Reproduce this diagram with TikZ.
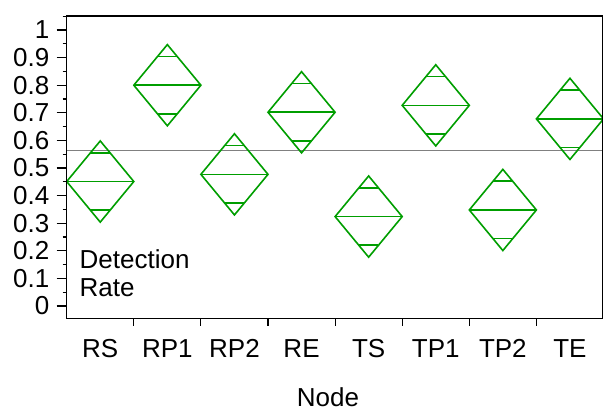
\documentclass[tikz,border=0pt]{standalone}
\usepackage{fontspec}
\setmainfont{Liberation Sans}
\definecolor{dgreen}{RGB}{0,158,0}
\definecolor{refgray}{RGB}{128,128,128}
\begin{document}
\begin{tikzpicture}[x=1pt,y=-1pt,
  axisline/.style={line width=1.3pt,black},
  tickline/.style={line width=1.1pt,black},
  diam/.style={line width=1.6pt,dgreen,line join=miter},
  refline/.style={line width=1.6pt,refgray},
  lbl/.style={font=\fontsize{26}{30}\selectfont,inner sep=0pt}]
\useasboundingbox (0,0) rectangle (603,408);
% reference (overall mean) line
\draw[refline] (66.7,150.6) -- (602.3,150.6);
% mean diamonds
\foreach \i/\m in {0/0.451,1/0.800,2/0.477,3/0.702,4/0.324,5/0.727,6/0.348,7/0.678} {
  \pgfmathsetmacro\cx{100.25+67.1*\i}
  \pgfmathsetmacro\cy{306-276*\m}
  \draw[diam] (\cx-33.55,\cy) -- (\cx,\cy-40.6) -- (\cx+33.55,\cy) -- (\cx,\cy+40.6) -- cycle;
  \draw[diam] (\cx-33.55,\cy) -- (\cx+33.55,\cy);
  \draw[diam] (\cx-9.83,\cy-28.7) -- (\cx+9.83,\cy-28.7);
  \draw[diam] (\cx-9.83,\cy+28.7) -- (\cx+9.83,\cy+28.7);
}
% y ticks and labels
\foreach \k/\lab in {0/0,1/0.1,2/0.2,3/0.3,4/0.4,5/0.5,6/0.6,7/0.7,8/0.8,9/0.9,10/1} {
  \pgfmathsetmacro\ty{306-27.6*\k}
  \draw[tickline] (56.7,\ty) -- (66.7,\ty);
  \draw[tickline] (62.7,\ty-13.8) -- (66.7,\ty-13.8);
  \node[lbl,anchor=base east] (yl\k) at (49.5,\ty+8.8) {\lab};
}
% x ticks and labels
\foreach \i in {1,...,7} {
  \draw[tickline] (66.7+67.1*\i,318.3) -- ++(0,8);
}
\foreach \i/\lab in {0/RS,1/RP1,2/RP2,3/RE,4/TS,5/TP1,6/TP2,7/TE} {
  \node[lbl,anchor=base] (xl\i) at (100.25+67.1*\i,357) {\lab};
}
% frame
\draw[axisline] (66.7,16) -- (602.3,16) -- (602.3,318.3) -- (66.7,318.3) -- cycle;
% axis titles
\node[lbl,anchor=base west] (ytitleA) at (79.5,268.3) {Detection};
\node[lbl,anchor=base west] (ytitleB) at (79.5,296.7) {Rate};
\node[lbl,anchor=base] (xtitle) at (328,406) {Node};
\end{tikzpicture}
\end{document}
